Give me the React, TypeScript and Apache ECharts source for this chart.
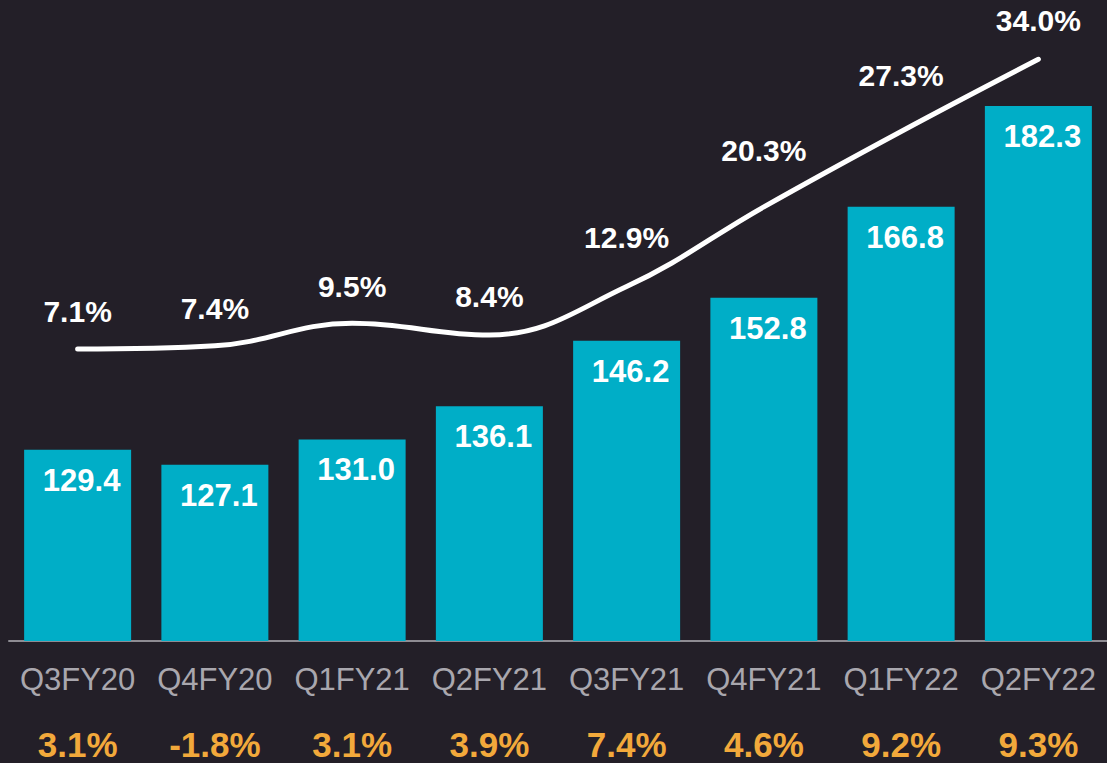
import React, { useEffect, useRef } from "react";
import * as echarts from "echarts";

const categories = ["Q3FY20", "Q4FY20", "Q1FY21", "Q2FY21", "Q3FY21", "Q4FY21", "Q1FY22", "Q2FY22"];
const barValues = [129.4, 127.1, 131.0, 136.1, 146.2, 152.8, 166.8, 182.3];
const lineValues = [7.1, 7.4, 9.5, 8.4, 12.9, 20.3, 27.3, 34.0];
const growthLabels = ["3.1%", "-1.8%", "3.1%", "3.9%", "7.4%", "4.6%", "9.2%", "9.3%"];
const lineLabelDistances = [22, 22, 21, 23, 34, 41, 40, 23];

export default function App() {
  const ref = useRef<HTMLDivElement>(null);
  useEffect(() => {
    if (!ref.current) return;
    const chart = echarts.init(ref.current, undefined, { renderer: "svg" });
    const font = "'Liberation Sans', Arial, sans-serif";
    chart.setOption({
      animation: false,
      backgroundColor: "#231F28",
      grid: { left: 9, top: 0, width: 1103, height: 641 },
      xAxis: [
        {
          type: "category",
          data: categories,
          position: "bottom",
          axisLine: { show: true, onZero: false, lineStyle: { color: "#8E8C93", width: 2 } },
          axisTick: { show: false },
          axisLabel: { interval: 0, color: "#A9A7AE", fontSize: 31, fontFamily: font, margin: 23 },
        },
        {
          type: "category",
          data: growthLabels,
          position: "bottom",
          offset: 80,
          axisLine: { show: false, onZero: false },
          axisTick: { show: false },
          axisLabel: { interval: 0, color: "#F2A93B", fontSize: 35, fontWeight: "bold", fontFamily: font, margin: 6 },
        },
      ],
      yAxis: [
        { type: "value", min: 100, max: 198.6, show: false, splitLine: { show: false } },
        { type: "value", min: -20, max: 39.5, show: false, splitLine: { show: false } },
      ],
      series: [
        {
          type: "bar",
          data: barValues,
          xAxisIndex: 0,
          yAxisIndex: 0,
          barWidth: 107,
          itemStyle: { color: "#00AEC7" },
          label: {
            show: true,
            position: "insideTop",
            distance: 15,
            offset: [4, 0],
            color: "#FFFFFF",
            fontSize: 31,
            fontWeight: "bold",
            fontFamily: font,
            formatter: (p: any) => p.value.toFixed(1),
          },
        },
        {
          type: "line",
          data: lineValues.map((v, i) => ({
            value: v,
            label: { distance: lineLabelDistances[i] },
          })),
          xAxisIndex: 0,
          yAxisIndex: 1,
          smooth: 0.4,
          symbol: "circle",
          symbolSize: 1,
          showSymbol: true,
          itemStyle: { color: "rgba(0,0,0,0)" },
          lineStyle: { color: "#FFFFFF", width: 5, cap: "round" },
          label: {
            show: true,
            position: "top",
            color: "#FFFFFF",
            fontSize: 30,
            fontWeight: "bold",
            fontFamily: font,
            formatter: (p: any) => p.value.toFixed(1) + "%",
          },
        },
      ],
    });
    return () => chart.dispose();
  }, []);
  return (
    <div
      ref={ref}
      style={{ position: "fixed", left: 0, top: 0, width: 1107, height: 763 }}
    />
  );
}
